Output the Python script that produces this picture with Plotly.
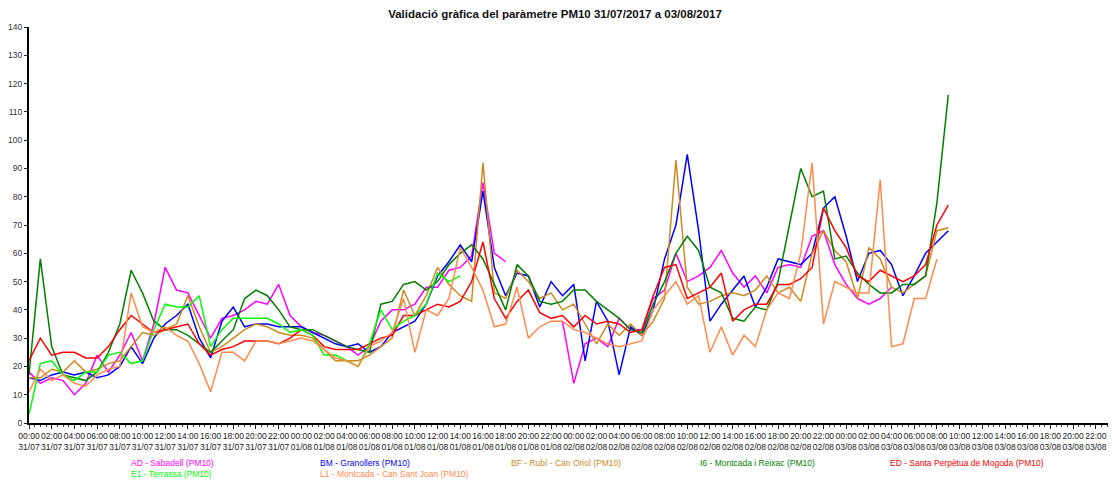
import pandas as pd
import plotly.graph_objects as go

N = None
START = "2017-07-31 00:00"
hours = list(range(82))
times = pd.date_range(START, periods=len(hours), freq="h")

title = "Validació gràfica del paràmetre PM10 31/07/2017 a 03/08/2017"

names = ["AD - Sabadell (PM10)", "BM - Granollers (PM10)", "BF - Rubí - Can Oriol (PM10)",
         "I6 - Montcada i Reixac (PM10)", "ED - Santa Perpètua de Mogoda (PM10)",
         "E1 - Terrassa (PM10)", "L1 - Montcada - Can Sant Joan (PM10)"]
colors = ["#FF00FF", "#0000FF", "#CC8A1E", "#008000", "#FF0000", "#00FF00", "#FF8A4C"]

ad = [18, 14, 16, 15, 10, 14, 24, 18, 24, 32,
      22, 35, 55, 47, 46, 38, 30, 37, 38, 40,
      43, 42, 49, 38, 34, 32, 31, 29, 27, 24,
      27, 36, 40, 40, 42, 48, 48, 54, 55, 59,
      85, 60, 57, N, N, N, N, 36, 14, 28,
      30, 27, 37, 33, 33, 44, 47, 60, 50, 52,
      55, 61, 53, 48, 52, 46, 55, 56, 55, 66,
      68, 56, 49, 44, 42, 44, 48, N, N, N,
      N, N]
bm = [16, 15, 17, 18, 17, 18, 16, 17, 20, 27,
      21, 30, 35, 38, 42, 30, 23, 36, 41, 34,
      35, 35, 34, 34, 34, 32, 30, 28, 27, 28,
      25, 27, 32, 34, 36, 42, 52, 57, 63, 57,
      82, 55, 45, 53, 52, 41, 50, 45, 49, 22,
      43, 36, 17, 34, 31, 40, 58, 70, 95, 68,
      36, 42, 47, 52, 41, 48, 58, 57, 56, 60,
      76, 80, 66, 50, 60, 61, 56, 45, 52, 60,
      64, 68]
bf = [16, 16, 19, 18, 22, 18, 19, 21, 22, 27,
      32, 31, 33, 35, 45, 34, 25, 27, 30, 33,
      35, 34, 32, 31, 31, 30, 26, 22, 22, 22,
      24, 27, 30, 47, 38, 45, 55, 49, 45, 43,
      92, 46, 44, 54, 50, 44, 46, 40, 42, 35,
      28, 35, 31, 35, 31, 36, 44, 93, 48, 42,
      43, 45, 46, 45, 47, 52, 46, 48, 43, 60,
      68, 61, 57, 44, 62, 58, 48, 46, 49, 52,
      68, 69]
i6 = [17, 58, 27, 17, 16, 15, 18, 25, 35, 54,
      46, 36, 33, 33, 31, 28, 25, 29, 33, 44,
      47, 45, 40, 34, 33, 33, 31, 29, 27, 26,
      25, 42, 43, 49, 50, 47, 50, 56, 60, 63,
      58, 49, 40, 56, 52, 43, 42, 43, 47, 47,
      43, 40, 37, 33, 32, 42, 50, 60, 66, 61,
      48, 46, 37, 36, 41, 40, 50, 70, 90, 80,
      82, 58, 59, 53, 49, 46, 46, 49, 49, 52,
      78, 116]
ed = [22, 30, 24, 25, 25, 23, 23, 27, 33, 38,
      35, 32, 33, 34, 35, 28, 24, 26, 27, 29,
      29, 29, 28, 30, 33, 31, 27, 26, 26, 26,
      28, 30, 31, 38, 38, 40, 42, 41, 43, 50,
      64, 44, 37, 43, 47, 39, 37, 38, 34, 38,
      35, 36, 35, 32, 33, 45, 55, 56, 44, 46,
      48, 53, 36, 40, 42, 42, 49, 49, 51, 55,
      76, 68, 62, 52, 50, 54, 52, 50, 52, 56,
      70, 77]
e1 = [3, 21, 22, 17, 15, 18, 18, 24, 25, 21,
      22, 33, 42, 41, 41, 45, 27, 33, 37, 37,
      37, 37, 35, 32, 33, 31, 24, 24, 22, 20,
      28, 40, 33, 36, 38, 42, 53, 50, 52] + [N] * 43
l1 = [11, 19, 15, 17, 14, 13, 17, 19, 20, 46,
      34, 32, 34, 31, 29, 21, 11, 25, 25, 22,
      29, 29, 28, 29, 30, 29, 26, 23, 22, 20,
      27, 29, 32, 44, 25, 40, 38, 44, 62, 55,
      47, 34, 35, 48, 30, 34, 36, 36, 33, 32,
      30, 28, 27, 28, 29, 40, 45, 50, 42, 45,
      25, 34, 24, 31, 27, 40, 46, 44, 60, 92,
      35, 50, 48, 46, 46, 86, 27, 28, 44, 44,
      58, N]

series = [ad, bm, bf, i6, ed, e1, l1]

FONT = "Liberation Sans, Arial, sans-serif"
W, H = 1112, 481
ml, mr, mt, mb = 29, W - 1108, 27, H - 423
pw, ph = W - ml - mr, H - mt - mb

fig = go.Figure()
for name, col, vals in zip(names, colors, series):
    fig.add_trace(go.Scatter(x=times, y=vals, mode="lines", name=name,
                             line=dict(color=col, width=1.5), connectgaps=False,
                             showlegend=False))

# legend as coloured text (no symbols), two rows of left-aligned columns
leg_x = [129, 318, 509, 698, 888, 129, 318]
leg_y = [463, 463, 463, 463, 463, 474, 474]
for name, col, lx, ly in zip(names, colors, leg_x, leg_y):
    fig.add_annotation(text=name, x=(lx - ml) / pw, y=1 - (ly - mt) / ph,
                       xref="paper", yref="paper",
                       xanchor="left", yanchor="middle", showarrow=False,
                       font=dict(family=FONT, size=8.5, color=col))

fig.update_layout(
    width=W, height=H,
    margin=dict(l=ml, r=mr, t=mt, b=mb, autoexpand=False),
    paper_bgcolor="white", plot_bgcolor="white",
    title=dict(text="<b>" + title + "</b>", x=555 / W, xanchor="center", y=1 - 14 / H,
               yanchor="middle", font=dict(family=FONT, size=11.5, color="#111"),
               automargin=False),
    font=dict(family=FONT, size=8.5, color="#222"),
)
fig.update_xaxes(
    type="date",
    range=[pd.Timestamp(START), pd.Timestamp(START) + pd.Timedelta(hours=95.07)],
    dtick=2 * 3600 * 1000, tick0=START, tickformat="%H:%M<br>%d/%m", tickangle=0,
    automargin=False,
    ticks="outside", ticklen=4, tickcolor="#222", tickwidth=1,
    minor=dict(dtick=1800 * 1000, ticks="outside", ticklen=2, tickcolor="#444", showgrid=False),
    showline=True, linecolor="black", linewidth=2, showgrid=False, zeroline=False,
    tickfont=dict(family=FONT, size=8.5, color="#222"), fixedrange=True,
)
fig.update_yaxes(
    range=[0, 140], dtick=10, tick0=0, automargin=False,
    ticks="outside", ticklen=3, tickcolor="#222",
    showline=True, linecolor="black", linewidth=2, showgrid=False, zeroline=False,
    tickfont=dict(family=FONT, size=8.5, color="#333"),
)
fig.write_html("out.html", config={"displayModeBar": False},
               post_script="document.body.style.margin='0';document.body.style.overflow='hidden';")
